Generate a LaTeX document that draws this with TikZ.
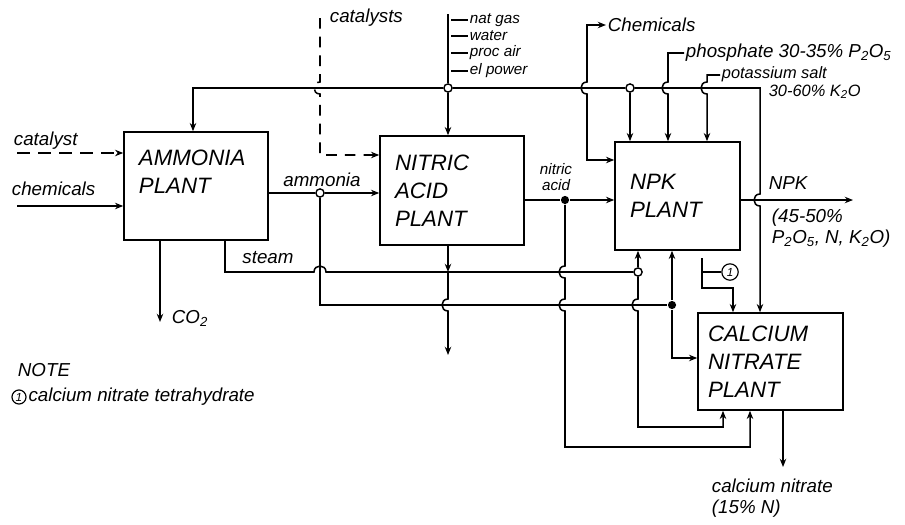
\documentclass[tikz,border=0pt]{standalone}
\usepackage{fontspec}
\setmainfont{Liberation Sans}
\usetikzlibrary{arrows.meta, positioning}

\begin{document}
\begin{tikzpicture}[
    x=0.03cm, y=-0.03cm,
    line width=1.3pt,
    >={Stealth[length=7pt, width=5.5pt]},
    plant/.style={rectangle, draw, line width=1.3pt, inner xsep=0.45cm, align=left,
                  font=\fontsize{19}{24}\selectfont\itshape},
    feed/.style={->, dash pattern=on 11pt off 7pt},
    lbl/.style={font=\fontsize{16}{18}\selectfont\itshape, inner sep=1pt},
    mid/.style={font=\fontsize{14}{15}\selectfont\itshape, inner sep=1pt},
    small/.style={font=\fontsize{13}{13}\selectfont\itshape, inner sep=1pt},
    junc/.style={circle, draw, fill=white, inner sep=0pt, minimum size=7pt, line width=1.2pt},
    jdot/.style={circle, fill=black, inner sep=0pt, minimum size=7pt},
    cref/.style={circle, draw, inner sep=0pt, minimum size=14pt, line width=1pt,
                 font=\fontsize{10}{10}\selectfont\itshape}
]
\useasboundingbox (0,0) rectangle (905,524);

% plants
\node[plant, text width=3.42cm, minimum height=3.24cm] (amm) at (196,186) {AMMONIA\\PLANT\\\mbox{}};
\node[plant, text width=3.42cm, minimum height=3.27cm] (nit) at (452,190.5) {NITRIC\\ACID\\PLANT};
\node[plant, text width=2.85cm, minimum height=3.24cm] (npk) at (677.5,196) {NPK\\PLANT};
\node[plant, text width=3.75cm, minimum height=2.91cm, inner xsep=0.3cm] (can) at (770.5,361.5) {CALCIUM\\NITRATE\\PLANT};

% junctions
\node[junc] (tapA) at (448,88) {};
\node[junc] (tapB) at (630,88) {};
\node[junc] (tapC) at (320,193) {};
\node[junc] (tapD) at (638,272) {};
\node[jdot] (dotA) at (672,305) {};
\node[jdot] (dotB) at (565,200) {};
\coordinate (nitjn) at (448,272);
\coordinate (nitvent) at (448,355);
\coordinate (catin) at (17,153);
\coordinate (chemin) at (17,206);
\coordinate (co2) at (160,322);
\coordinate (npkout) at (853,200);
\coordinate (canout) at (783,467);
\coordinate (brk) at (702,272);

% feeds to ammonia plant
\node[lbl, anchor=west] (catlbl) at (12,141) {catalyst};
\draw[feed] (catin) -- (amm.west |- catin);
\node[lbl, anchor=west] (chemlbl) at (10,189) {chemicals};
\draw[->] (chemin) -- (amm.west |- chemin);
\draw[->] (co2 |- amm.south) -- (co2);
\node[lbl, anchor=west] (co2lbl) at (170,318) {CO\textsubscript{2}};

% utility header
\foreach \y/\t [count=\i] in {20/nat gas, 36/water, 53/proc air, 71/el power}{
  \node[small, anchor=west] (util\i) at (468,\y) {\t};
  \draw (451,\y) -- (util\i.west);
}
\draw (448,14) -- (tapA);
\draw[->] (tapA) -- (193,88) -- (193,0 |- amm.north);
\draw[->] (tapA) -- (tapA |- nit.north);
\draw (tapA) -- (tapB);
\draw[->] (tapB) -- (tapB |- npk.north);
\draw[->] (tapB) -- (760,88) -- (760,194) .. controls (752,194) and (752,206) .. (760,206) -- (760,0 |- can.north);

% catalysts to nitric acid plant
\node[lbl, anchor=west] (cats) at (328,18) {catalysts};
\draw[feed, dash pattern=on 9pt off 7pt] (cats.west -| 320,0) -- (320,82) .. controls (312,82) and (312,94) .. (320,94) |- (nit.west |- 0,155);

% raw materials to NPK plant
\node[lbl, anchor=west] (chemtop) at (606,25) {Chemicals};
\draw[<->] (chemtop.west) -| (587,82) .. controls (579,82) and (579,94) .. (587,94) |- (npk.west |- 0,160);
\node[lbl, anchor=west] (phos) at (684,53) {phosphate 30-35\% P\textsubscript{2}O\textsubscript{5}};
\draw[->] (phos.west) -| (668,82) .. controls (660,82) and (660,94) .. (668,94) -- (668,0 |- npk.north);
\node[mid, anchor=west, align=left] (pot) at (720,83) {potassium salt\\\hspace*{40pt}30-60\% K\textsubscript{2}O};
\draw[->] (pot.west) ++(0,-8) -| (707,82) .. controls (699,82) and (699,94) .. (707,94) -- (707,0 |- npk.north);

% ammonia
\node[lbl] (ammlbl) at (322,180) {ammonia};
\draw (amm.east |- tapC) -- (tapC);
\draw[->] (tapC) -- (nit.west |- tapC);
\draw (tapC) -- (320,305) -- (dotA);
\draw[->] (dotA) -- (dotA |- npk.south);
\draw[->] (dotA) |- (can.west |- 0,358);

% steam
\node[lbl] (steamlbl) at (268,258) {steam};
\draw (225,0 |- amm.south) -- (225,272) -- (314,272) .. controls (314,264) and (326,264) .. (326,272) -- (nitjn) -- (tapD);
\draw[->] (nitjn |- nit.south) -- (nitjn);
\draw[->] (nitjn) -- (448,299) .. controls (440,299) and (440,311) .. (448,311) -- (nitvent);
\draw[->] (tapD) -- (tapD |- npk.south);
\draw[->] (tapD) -- (638,299) .. controls (630,299) and (630,311) .. (638,311) |- (723,427) -- (723,0 |- can.south);

% nitric acid
\node[small, align=center] (nitlbl) at (556,177) {nitric\\acid};
\draw (nit.east |- dotB) -- (dotB);
\draw[->] (dotB) -- (npk.west |- dotB);
\draw[->] (dotB) -- (565,266) .. controls (557,266) and (557,278) .. (565,278) -- (565,299) .. controls (557,299) and (557,311) .. (565,311) |- (750,447) -- (750,0 |- can.south);

% products
\draw[->] (npk.east |- npkout) -- (npkout);
\node[lbl, anchor=west] (npklbl) at (767,183) {NPK};
\node[lbl, anchor=north west, align=left] (npkspec) at (770,207) {(45-50\%\\P\textsubscript{2}O\textsubscript{5}, N, K\textsubscript{2}O)};
\node[cref] (cn1) at (730,272) {1};
\draw (cn1) -- (brk) -- (702,258);
\draw[->] (brk) -- (702,288) -| (733,0 |- can.north);
\draw[->] (canout |- can.south) -- (canout);
\node[lbl, anchor=north west, align=left] (canlbl) at (710,477) {calcium nitrate\\(15\% N)};

% note
\node[lbl, anchor=west] (notehd) at (16,370) {NOTE};
\node[cref, minimum size=12pt] (note1) at (19,397) {1};
\node[lbl, anchor=west] (notetxt) at (note1.east) {calcium nitrate tetrahydrate};

\end{tikzpicture}
\end{document}
